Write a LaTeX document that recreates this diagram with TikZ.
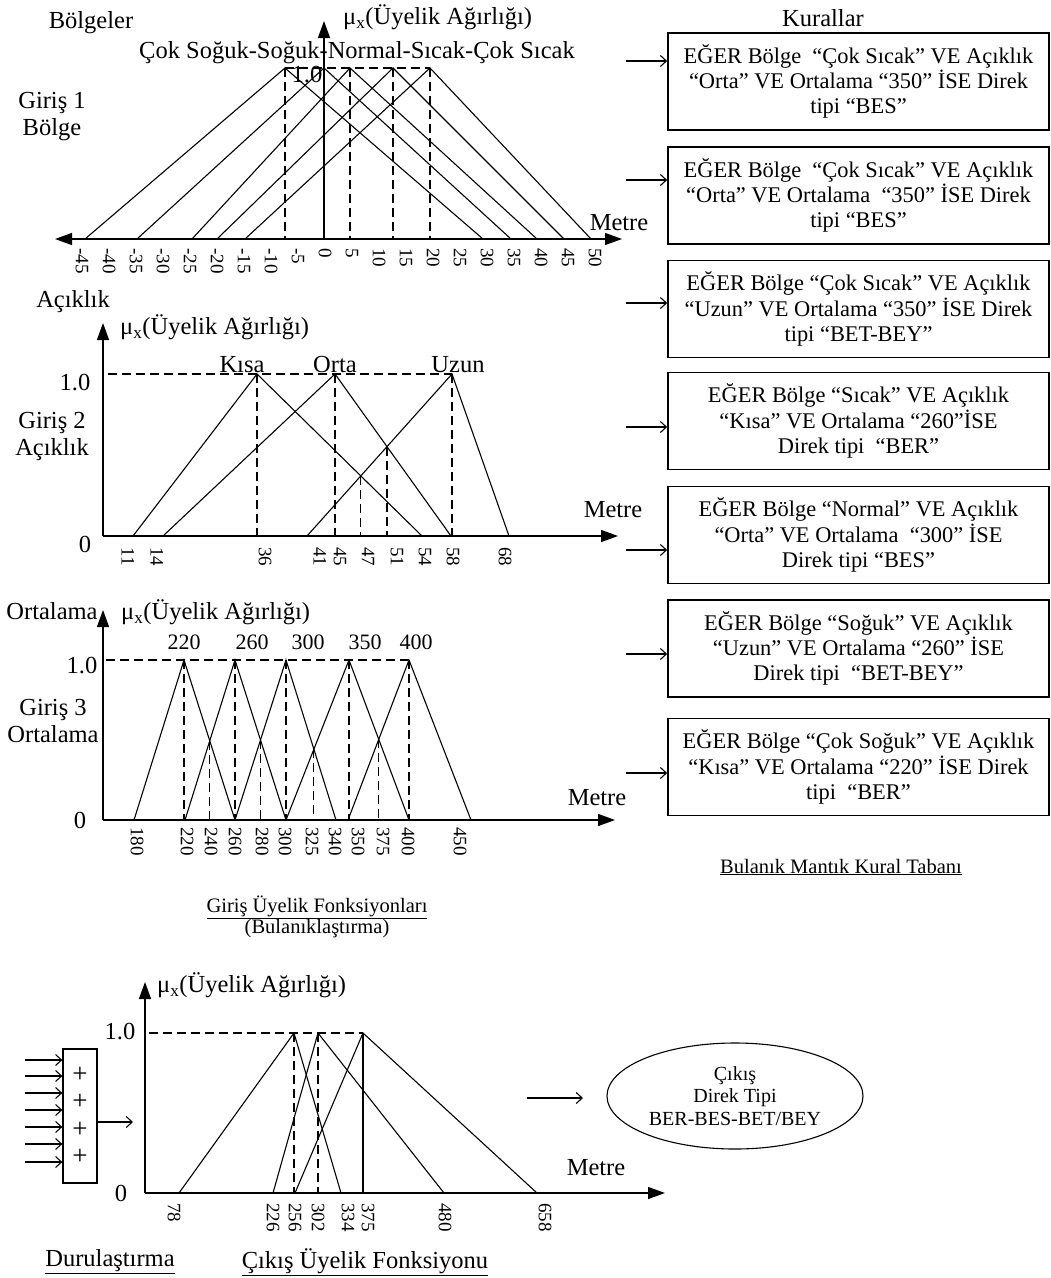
\documentclass[tikz,border=0pt]{standalone}
\usepackage{fontspec}
\setmainfont{Liberation Serif}
\usepackage{tikz}
\usetikzlibrary{arrows.meta,shapes.geometric}

\begin{document}
\begin{tikzpicture}[x=1pt,y=-1pt,
    lbl/.style={inner sep=0pt,font=\fontsize{24.5}{27}\selectfont,align=center},
    num/.style={inner sep=0pt,font=\fontsize{19}{22}\selectfont,rotate=-90,anchor=west},
    pk/.style={inner sep=0pt,font=\fontsize{22}{25}\selectfont,anchor=base},
    note/.style={inner sep=0pt,font=\fontsize{20.5}{21.5}\selectfont,align=center},
    mf/.style={line width=1.1pt},
    guide/.style={line width=1.1pt,dash pattern=on 9pt off 5pt},
    axis/.style={line width=1.4pt,-{Triangle[length=17pt,width=12pt]}},
    axis2/.style={line width=1.4pt,{Triangle[length=17pt,width=12pt]}-{Triangle[length=17pt,width=12pt]}},
    feed/.style={line width=1.1pt,-{Straight Barb[length=6pt,width=11pt]}},
    rulebox/.style={draw,line width=1.6pt,minimum width=381pt,minimum height=97pt,align=center,inner sep=0pt,font=\fontsize{22.4}{25.3}\selectfont}]
    \useasboundingbox (0,0) rectangle (1051,1278);

    % Giris 1 - Bolge
    \node[lbl] (bolgeler) at (91,23) {Bölgeler};
    \node[lbl,anchor=west] (mu1) at (343,17) {μ\textsubscript{x}(Üyelik Ağırlığı)};
    \node[lbl] (sinif1) at (357,53) {Çok Soğuk-Soğuk-Normal-Sıcak-Çok Sıcak};
    \node[lbl] (giris1) at (52,117) {Giriş 1\\Bölge};
    \node[lbl] (metre1) at (619,223) {Metre};
    \draw[axis] (324,239) -- (324,21);
    \draw[axis2] (55,239) -- (622,239);
    \draw[guide] (285,68) -- (430,68);
    \foreach \x in {285,350,393,430}
        \draw[guide] (\x,68) -- (\x,239);
    \draw[mf] (85,239) -- (285,68) -- (483,239);
    \draw[mf] (137,239) -- (324,68) -- (511,239);
    \draw[mf] (192,239) -- (350,68) -- (537,239);
    \draw[mf] (217,239) -- (393,68) -- (564,239);
    \draw[mf] (245,239) -- (430,68) -- (591,239);
    \node[lbl] (bir1) at (307,75) {1.0};
    \foreach \v in {-45,-40,...,50}
        \node[num] (b\v) at ({325+5.4*\v},248) {\v};

    % Giris 2 - Aciklik
    \node[lbl] (aciklik) at (73,302) {Açıklık};
    \node[lbl,anchor=west] (mu2) at (120,327) {μ\textsubscript{x}(Üyelik Ağırlığı)};
    \node[lbl] (giris2) at (52,436) {Giriş 2\\Açıklık};
    \node[lbl] (bir2) at (75,383) {1.0};
    \node[lbl] (sifir2) at (85,544) {0};
    \node[lbl] (metre2) at (613,510) {Metre};
    \node[lbl,anchor=base] (kisa) at (242,372) {Kısa};
    \node[lbl,anchor=base] (orta) at (335,372) {Orta};
    \node[lbl,anchor=base] (uzun) at (458,372) {Uzun};
    \coordinate (k0) at (133,536); \coordinate (k1) at (257,374); \coordinate (k2) at (422,536);
    \coordinate (o0) at (163,536); \coordinate (o1) at (335,374); \coordinate (o2) at (451,536);
    \coordinate (u0) at (307,536); \coordinate (u1) at (452,374); \coordinate (u2) at (509,536);
    \draw[axis] (103,536) -- (103,323);
    \draw[axis] (103,536) -- (618,536);
    \draw[guide] (108,374) -- (u1);
    \foreach \p in {k1,o1,u1}
        \draw[guide] (\p) -- (\p |- k0);
    \path (intersection of k1--k2 and u0--u1) coordinate (x47);
    \path (intersection of o1--o2 and u0--u1) coordinate (x51);
    \draw[guide] (x47) -- (x47 |- k0);
    \draw[guide] (x51) -- (x51 |- k0);
    \draw[mf] (k0) -- (k1) -- (k2);
    \draw[mf] (o0) -- (o1) -- (o2);
    \draw[mf] (u0) -- (u1) -- (u2);
    \foreach \t/\x in {11/128,14/157,36/265,41/320,45/340,47/368,51/397,54/425,58/453,68/505}
        \node[num] (a\t) at (\x,547) {\t};

    % Giris 3 - Ortalama
    \node[lbl] (ortalama) at (52,611) {Ortalama};
    \node[lbl,anchor=west] (mu3) at (121,612) {μ\textsubscript{x}(Üyelik Ağırlığı)};
    \node[lbl] (giris3) at (53,721) {Giriş 3\\Ortalama};
    \node[lbl] (bir3) at (82,666) {1.0};
    \node[lbl] (sifir3) at (80,820) {0};
    \node[lbl] (metre3) at (597,798) {Metre};
    \foreach \t/\x in {220/184,260/252,300/308,350/365,400/416}
        \node[pk] (n\t) at (\x,649) {\t};
    \coordinate (p220) at (184,660); \coordinate (p260) at (235,660); \coordinate (p300) at (286,660);
    \coordinate (p350) at (349,660); \coordinate (p400) at (409,660);
    \coordinate (f180) at (134,820); \coordinate (f220) at (185,820); \coordinate (f260) at (235,820);
    \coordinate (f300) at (286,820); \coordinate (f340) at (336,820); \coordinate (f345) at (348,820);
    \coordinate (f400) at (409,820); \coordinate (f450) at (471,820);
    \draw[axis] (103,820) -- (103,610);
    \draw[axis] (103,820) -- (615,820);
    \draw[guide] (106,660) -- (p400);
    \foreach \p in {p220,p260,p300,p350,p400}
        \draw[guide] (\p) -- (\p |- f180);
    \path (intersection of p220--f260 and f220--p260) coordinate (x240);
    \path (intersection of p260--f300 and f260--p300) coordinate (x280);
    \path (intersection of p300--f340 and f300--p350) coordinate (x325);
    \path (intersection of p350--f400 and f345--p400) coordinate (x375);
    \foreach \p in {x240,x280,x325,x375}
        \draw[guide] (\p) -- (\p |- f180);
    \draw[mf] (f180) -- (p220) -- (f260);
    \draw[mf] (f220) -- (p260) -- (f300);
    \draw[mf] (f260) -- (p300) -- (f340);
    \draw[mf] (f300) -- (p350) -- (f400);
    \draw[mf] (f345) -- (p400) -- (f450);
    \foreach \t/\x in {180/137,220/187,240/211,260/235,280/262,300/285,325/312,340/335,350/358,375/383,400/408,450/460}
        \node[num] (c\t) at (\x,827) {\t};
    \node[note] (girisuf) at (317,917) {\underline{Giriş Üyelik Fonksiyonları}\\(Bulanıklaştırma)};

    % Kurallar
    \node[lbl] (kurallar) at (823,18) {Kurallar};
    \node[rulebox] (r1) at (858.5,81.5) {EĞER Bölge~ “Çok Sıcak” VE Açıklık\\“Orta” VE Ortalama “350” İSE Direk\\tipi “BES”};
    \node[rulebox] (r2) at (858.5,195.5) {EĞER Bölge~ “Çok Sıcak” VE Açıklık\\“Orta” VE Ortalama~ “350” İSE Direk\\tipi “BES”};
    \node[rulebox] (r3) at (858.5,309) {EĞER Bölge “Çok Sıcak” VE Açıklık\\“Uzun” VE Ortalama “350” İSE Direk\\tipi “BET-BEY”};
    \node[rulebox] (r4) at (858.5,421) {EĞER Bölge “Sıcak” VE Açıklık\\“Kısa” VE Ortalama “260”İSE\\Direk tipi~ “BER”};
    \node[rulebox] (r5) at (858.5,535) {EĞER Bölge “Normal” VE Açıklık\\“Orta” VE Ortalama~ “300” İSE\\Direk tipi “BES”};
    \node[rulebox] (r6) at (858.5,648.5) {EĞER Bölge “Soğuk” VE Açıklık\\“Uzun” VE Ortalama “260” İSE\\Direk tipi~ “BET-BEY”};
    \node[rulebox] (r7) at (858.5,767) {EĞER Bölge “Çok Soğuk” VE Açıklık\\“Kısa” VE Ortalama “220” İSE Direk\\tipi~ “BER”};
    \foreach \i/\y in {1/61,2/180,3/303,4/427,5/550,6/654,7/773} {
        \coordinate (s\i) at (626,\y);
        \draw[feed] (s\i) -- (s\i -| r\i.west);
    }
    \node[note] (taban) at (841,867) {\underline{Bulanık Mantık Kural Tabanı}};

    % Cikis
    \node[lbl,anchor=west] (mu4) at (157,985) {μ\textsubscript{x}(Üyelik Ağırlığı)};
    \node[lbl] (bir4) at (120,1032) {1.0};
    \node[lbl] (sifir4) at (121,1193) {0};
    \node[lbl] (metre4) at (596,1168) {Metre};
    \coordinate (q256) at (294,1033); \coordinate (q302) at (318,1033); \coordinate (q375) at (363,1033);
    \coordinate (g78) at (179,1193); \coordinate (g226) at (273,1193); \coordinate (g256) at (295,1193);
    \coordinate (g334) at (341,1193); \coordinate (g480) at (444,1193); \coordinate (g658) at (537,1193);
    \draw[axis] (145,1193) -- (145,982);
    \draw[axis] (145,1193) -- (665,1193);
    \draw[guide] (149,1033) -- (q375);
    \draw[guide] (q256) -- (q256 |- g78);
    \draw[guide] (q302) -- (q302 |- g78);
    \draw[mf] (q375) -- (q375 |- g78);
    \draw[mf] (g78) -- (q256) -- (g334);
    \draw[mf] (g226) -- (q302) -- (g480);
    \draw[mf] (g256) -- (q375) -- (g658);
    \foreach \t/\x in {78/174,226/273,256/295,302/318,334/348,375/368,480/445,658/545}
        \node[num] (d\t) at (\x,1203) {\t};
    \node[draw,line width=1.3pt,minimum width=34pt,minimum height=134pt,inner sep=0pt,align=center,
        font=\fontsize{27}{27.5}\selectfont] (toplam) at (80,1116) {+\\+\\+\\+};
    \foreach \i/\y in {1/1060,2/1076,3/1093,4/1110,5/1127,6/1144,7/1162} {
        \coordinate (e\i) at (25,\y);
        \draw[feed] (e\i) -- (e\i -| toplam.west);
    }
    \coordinate (cik) at (133,1122);
    \draw[feed] (cik -| toplam.east) -- (cik);
    \node[ellipse,draw,line width=1.1pt,minimum width=256pt,minimum height=106pt,inner sep=0pt,align=center,
        font=\fontsize{20}{22.5}\selectfont] (cikis) at (735,1096) {Çıkış\\Direk Tipi\\BER-BES-BET/BEY};
    \coordinate (ok) at (527,1098);
    \draw[feed] (ok) -- ++(56,0);
    \node[lbl] (durul) at (110,1262) {\underline{Durulaştırma}};
    \node[lbl] (cikisuf) at (365,1262) {\underline{Çıkış Üyelik Fonksiyonu}};
\end{tikzpicture}
\end{document}
